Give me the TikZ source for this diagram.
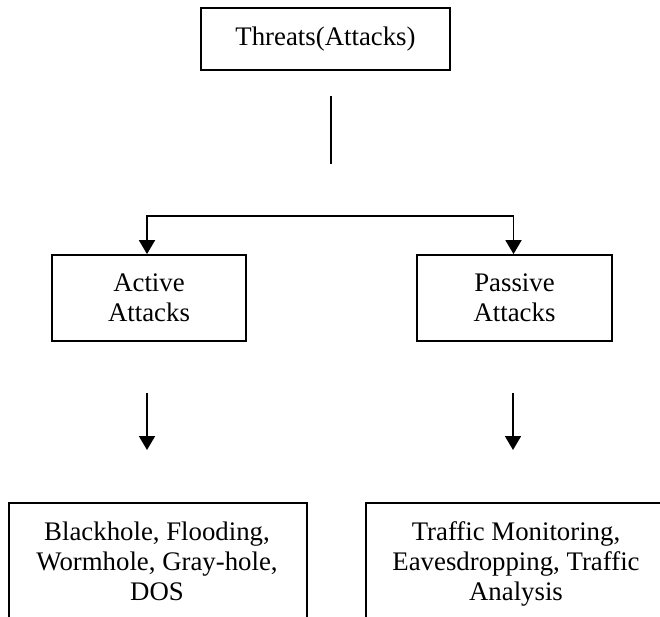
\documentclass[tikz,border=0pt]{standalone}
\usepackage{fontspec}
\setmainfont{Liberation Serif}
\usetikzlibrary{arrows.meta}

\begin{document}
\begin{tikzpicture}[
    x=1pt, y=-1pt,
    line width=1.8pt,
    every node/.style={font=\fontsize{26.8}{30}\selectfont},
    box/.style={draw, rectangle, inner sep=0pt, align=center},
    label/.style={inner sep=0pt, align=center, anchor=north},
    tip/.style={-{Triangle[length=14pt,width=16pt]}},
    twotip/.style={{Triangle[length=14pt,width=16pt]}-{Triangle[length=14pt,width=16pt]}}
  ]
  \useasboundingbox (0,0) rectangle (660,617);
  \clip (0,0) rectangle (660,617);

  % top category
  \node[box, minimum width=249pt, minimum height=62pt] (threats) at (325.5,39) {Threats(Attacks)};

  % two branches
  \node[box, minimum width=194pt, minimum height=86pt] (active)  at (149,298)   {Active\\Attacks};
  \node[box, minimum width=195pt, minimum height=86pt] (passive) at (514.5,298) {Passive\\Attacks};

  % stem below the top box
  \coordinate (stemtop) at (331,96);
  \coordinate (stembot) at (331,164);
  \draw (stemtop) -- (stembot);

  % split bar feeding both branches
  \coordinate (split) at (331,216);
  \draw[twotip] ([xshift=-2pt]active.north) |- (split) -| ([xshift=-1pt]passive.north);

  % arrows towards the attack lists
  \coordinate (a1) at (147,393);
  \coordinate (a2) at (147,450);
  \coordinate (p1) at (513,393);
  \coordinate (p2) at (513,450);
  \draw[tip] (a1) -- (a2);
  \draw[tip] (p1) -- (p2);

  % attack lists (boxes run past the lower edge)
  \draw (9,640) |- (307,503) -- (307,640);
  \draw (366,640) |- (680,503);
  \node[label] (activelist)  at (157,521) {Blackhole, Flooding,\\Wormhole, Gray-hole,\\DOS};
  \node[label] (passivelist) at (516,521) {Traffic Monitoring,\\Eavesdropping, Traffic\\Analysis};
\end{tikzpicture}
\end{document}
